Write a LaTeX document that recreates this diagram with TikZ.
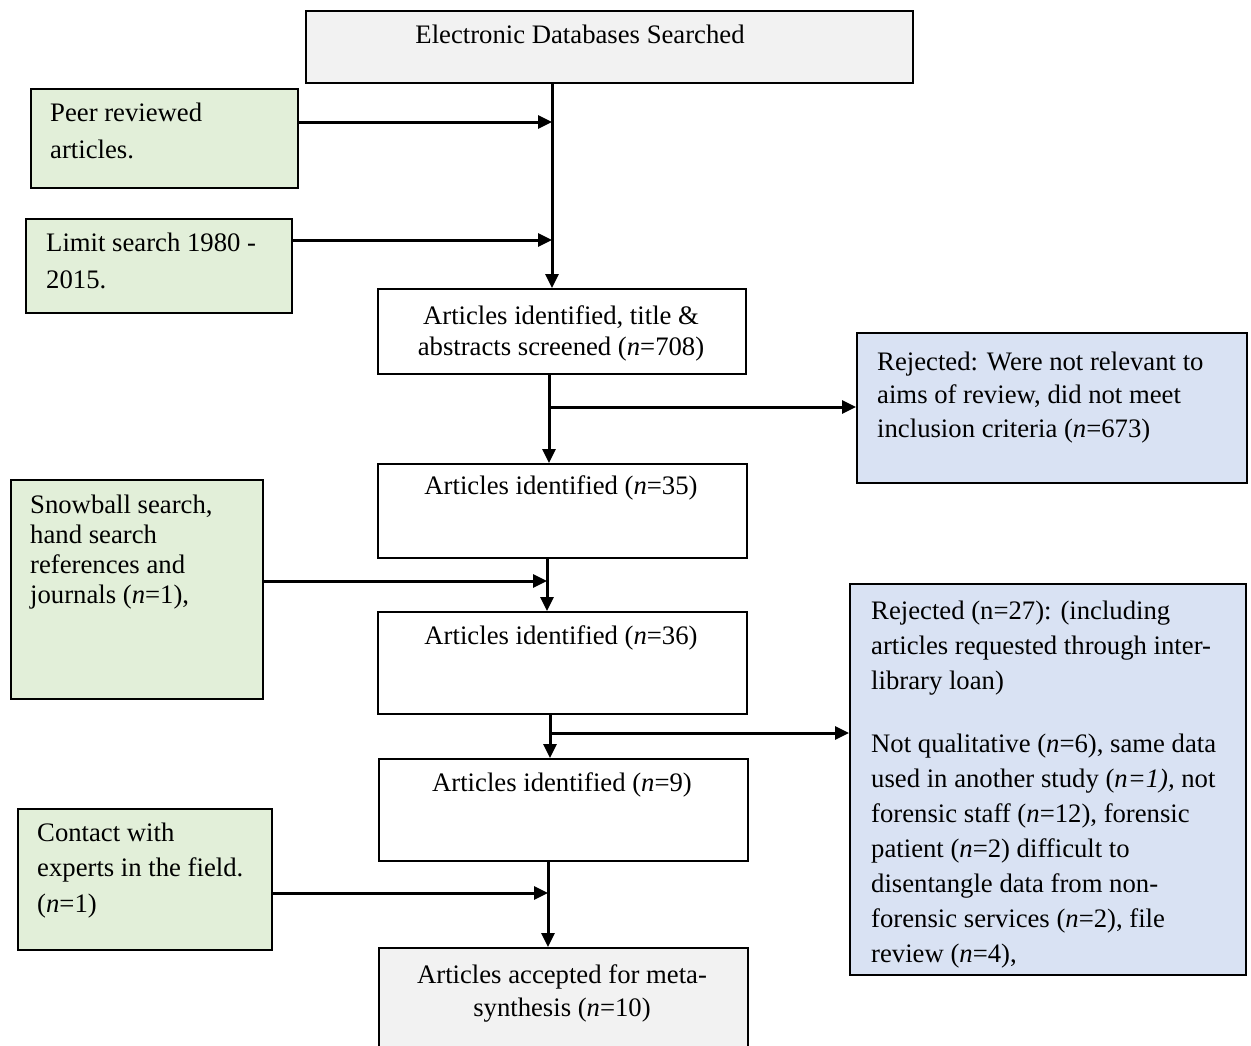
\documentclass[tikz,border=0pt]{standalone}
\usepackage{fontspec}
\setmainfont{Liberation Serif}
\usetikzlibrary{arrows.meta}
\definecolor{boxgray}{HTML}{F2F2F2}
\definecolor{boxgreen}{HTML}{E2EFD9}
\definecolor{boxblue}{HTML}{D9E2F3}
\newcommand\lead[1]{\fontsize{26.7}{#1}\selectfont}

\begin{document}
\begin{tikzpicture}[x=1pt,y=-1pt,
  box/.style={draw=black, line width=2pt, inner sep=0pt, anchor=north west},
  % multi-line texts are placed by the baseline of their last line
  txt/.style={inner sep=0pt, align=left, anchor=base west},
  ctxt/.style={inner sep=0pt, align=center, anchor=base},
  conn/.style={line width=3pt, -{Triangle[length=14pt,width=13pt]}}]
\useasboundingbox (0,0) rectangle (1251,1045);
\clip (0,0) rectangle (1251,1045);

% boxes
\node[box, fill=boxgray,  minimum width=607pt, minimum height=72pt]  (top)     at (305,10)  {};
\node[box, fill=boxgreen, minimum width=267pt, minimum height=99pt]  (peer)    at (30,88)   {};
\node[box, fill=boxgreen, minimum width=266pt, minimum height=94pt]  (limit)   at (25,218)  {};
\node[box, fill=white,    minimum width=368pt, minimum height=85pt]  (b708)    at (377,288) {};
\node[box, fill=boxblue,  minimum width=390pt, minimum height=150pt] (rej1)    at (856,332) {};
\node[box, fill=white,    minimum width=369pt, minimum height=94pt]  (b35)     at (377,463) {};
\node[box, fill=boxgreen, minimum width=252pt, minimum height=219pt] (snow)    at (10,479)  {};
\node[box, fill=white,    minimum width=369pt, minimum height=102pt] (b36)     at (377,611) {};
\node[box, fill=boxblue,  minimum width=396pt, minimum height=391pt] (rej2)    at (849,583) {};
\node[box, fill=white,    minimum width=369pt, minimum height=102pt] (b9)      at (378,758) {};
\node[box, fill=boxgreen, minimum width=254pt, minimum height=141pt] (contact) at (17,808)  {};
\node[box, fill=boxgray,  minimum width=369pt, minimum height=130pt] (final)   at (378,947) {};

% texts
\node[ctxt, font=\lead{31}] (topT) at (580,43) {Electronic Databases Searched};
\node[txt, font=\lead{37}] (peerT) at (50,158) {Peer reviewed\\articles.};
\node[txt, font=\lead{37}] (limitT) at (46,288) {Limit search 1980 -\\2015.};
\node[ctxt, font=\lead{31}] (b708T) at (561,355) {Articles identified, title \&\\abstracts screened (\textit{n}=708)};
\node[txt, font=\lead{33.5}] (rej1T) at (877,437) {Rejected: Were not relevant to\\aims of review, did not meet\\inclusion criteria (\textit{n}=673)};
\node[ctxt, font=\lead{31}] (b35T) at (561,494) {Articles identified (\textit{n}=35)};
\node[txt, font=\lead{30}] (snowT) at (30,603) {Snowball search,\\hand search\\references and\\journals (\textit{n}=1),};
\node[ctxt, font=\lead{31}] (b36T) at (561,644) {Articles identified (\textit{n}=36)};
\node[txt, font=\lead{35}] (rej2T) at (871,689) {Rejected (n=27): (including\\articles requested through inter-\\library loan)};
\node[txt, font=\lead{35}] (rej2U) at (871,962) {Not qualitative (\textit{n}=6), same data\\used in another study (\textit{n=1),} not\\forensic staff (\textit{n}=12), forensic\\patient (\textit{n}=2) difficult to\\disentangle data from non-\\forensic services (\textit{n}=2), file\\review (\textit{n}=4),};
\node[ctxt, font=\lead{31}] (b9T) at (562,791) {Articles identified (\textit{n}=9)};
\node[txt, font=\lead{35.5}] (contactT) at (37,912) {Contact with\\experts in the field.\\(\textit{n}=1)};
\node[ctxt, font=\lead{33}] (finalT) at (562,1016) {Articles accepted for meta-\\synthesis (\textit{n}=10)};

% junction points on the main flow line
\coordinate (sA) at (552,0);
\coordinate (jPeer) at (552,122);
\coordinate (jLimit) at (552,240);
\coordinate (sB) at (549,0);
\coordinate (jRej1) at (549,407);
\coordinate (sC) at (547,0);
\coordinate (jSnow) at (547,581);
\coordinate (sD) at (550,0);
\coordinate (jRej2) at (550,733);
\coordinate (sE) at (548,0);
\coordinate (jContact) at (548,893);

% connectors
\draw[conn] (top.south -| sA) -- (b708.north -| sA);
\draw[conn] (peer.east |- jPeer) -- (jPeer);
\draw[conn] (limit.east |- jLimit) -- (jLimit);
\draw[conn] (b708.south -| sB) -- (b35.north -| sB);
\draw[conn] (jRej1) -- (rej1.west |- jRej1);
\draw[conn] (b35.south -| sC) -- (b36.north -| sC);
\draw[conn] (snow.east |- jSnow) -- (jSnow);
\draw[conn] (b36.south -| sD) -- (b9.north -| sD);
\draw[conn] (jRej2) -- (rej2.west |- jRej2);
\draw[conn] (b9.south -| sE) -- (final.north -| sE);
\draw[conn] (contact.east |- jContact) -- (jContact);
\end{tikzpicture}
\end{document}
